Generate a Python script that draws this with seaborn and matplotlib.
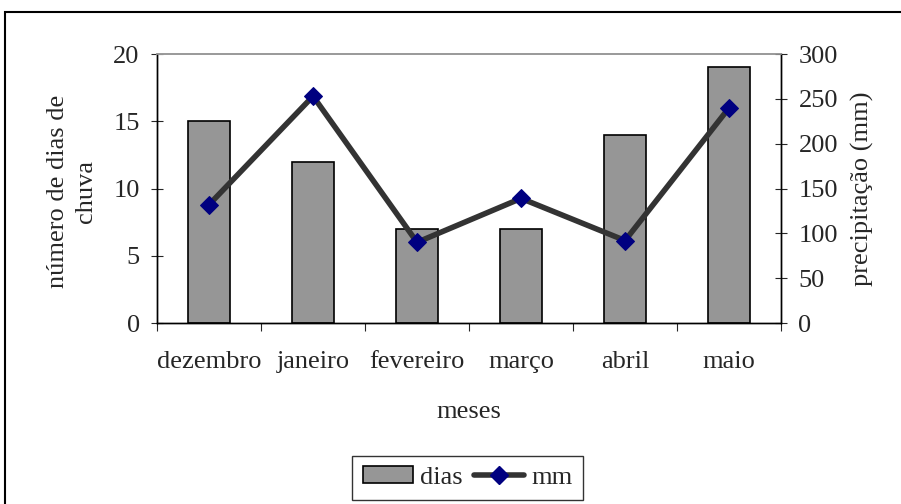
import pandas as pd
import matplotlib
matplotlib.use('Agg')
import matplotlib.pyplot as plt
from matplotlib.patches import Patch, Rectangle
from matplotlib.lines import Line2D
import seaborn as sns

# Dados do gráfico
meses = ['dezembro', 'janeiro', 'fevereiro', 'março', 'abril', 'maio']
dias = [15, 12, 7, 7, 14, 19]
mm = [132, 253, 90, 139, 92, 240]

df = pd.DataFrame({'meses': meses, 'dias': dias, 'mm': mm})

sns.set_style('white')
plt.rcParams['font.family'] = ['Liberation Serif', 'DejaVu Serif']
fs = 19

fig = plt.figure(figsize=(9.01, 5.04), dpi=100)
ax = fig.add_axes([0.1743, 0.3591, 0.6926, 0.5337])

# Barras - número de dias
sns.barplot(data=df, x='meses', y='dias', ax=ax, color='#969696',
            edgecolor='black', linewidth=1.2, width=0.4, saturation=1)
ax.set_ylim(0, 20)
ax.set_yticks(range(0, 21, 5))
ax.set_xlim(-0.5, len(meses) - 0.5)
ax.set_ylabel('número de dias de\nchuva', fontsize=fs, va='center', linespacing=1.35)
ax.yaxis.set_label_coords(-0.137, 0.49)
ax.set_xlabel('meses', fontsize=fs, va='center')
ax.xaxis.set_label_coords(0.5, -0.33)
ax.set_xticks([i + 0.5 for i in range(-1, len(meses))], minor=True)
ax.tick_params(axis='x', which='major', length=0, pad=20, labelsize=fs)
ax.tick_params(axis='x', which='minor', length=5.5, direction='out', width=0.8, bottom=True)
ax.tick_params(axis='y', length=9, direction='inout', width=0.8, left=True, pad=8, labelsize=fs)

# Linha - precipitação
ax2 = ax.twinx()
sns.lineplot(data=df, x='meses', y='mm', ax=ax2, color='#333333', linewidth=4,
             marker='D', markersize=9, markerfacecolor='#000080',
             markeredgecolor='#000080', sort=False)
ax2.set_ylim(0, 300)
ax2.set_yticks(range(0, 301, 50))
ax2.set_ylabel('precipitação (mm)', fontsize=fs, va='center')
ax2.yaxis.set_label_coords(1.131, 0.5)
ax2.tick_params(axis='y', length=9, direction='inout', width=0.8, right=True, pad=8, labelsize=fs)
ax2.set_xlim(-0.5, len(meses) - 0.5)

for a in (ax, ax2):
    for s in ['left', 'right', 'bottom']:
        a.spines[s].set_color('black')
        a.spines[s].set_linewidth(1)
    a.spines['top'].set_color('#999999')
    a.spines['top'].set_linewidth(1.2)

# Legenda
handles = [Patch(facecolor='#969696', edgecolor='black', linewidth=1.2, label='dias'),
           Line2D([], [], color='#333333', linewidth=4, marker='D', markersize=9,
                  markerfacecolor='#000080', markeredgecolor='#000080', label='mm')]
leg = fig.legend(handles=handles, loc='center', bbox_to_anchor=(0.519, 0.052), ncol=2,
                 frameon=True, fancybox=False, edgecolor='black', fontsize=fs,
                 handlelength=1.9, handleheight=0.6, handletextpad=0.25,
                 columnspacing=0.45, borderpad=0.4, borderaxespad=0)
leg.get_frame().set_linewidth(1)

# Borda da figura
fig.patches.append(Rectangle((0.006, -0.02), 1.1, 0.996, transform=fig.transFigure,
                             fill=False, edgecolor='black', linewidth=1.5))

fig.savefig('out.png', dpi=100)
